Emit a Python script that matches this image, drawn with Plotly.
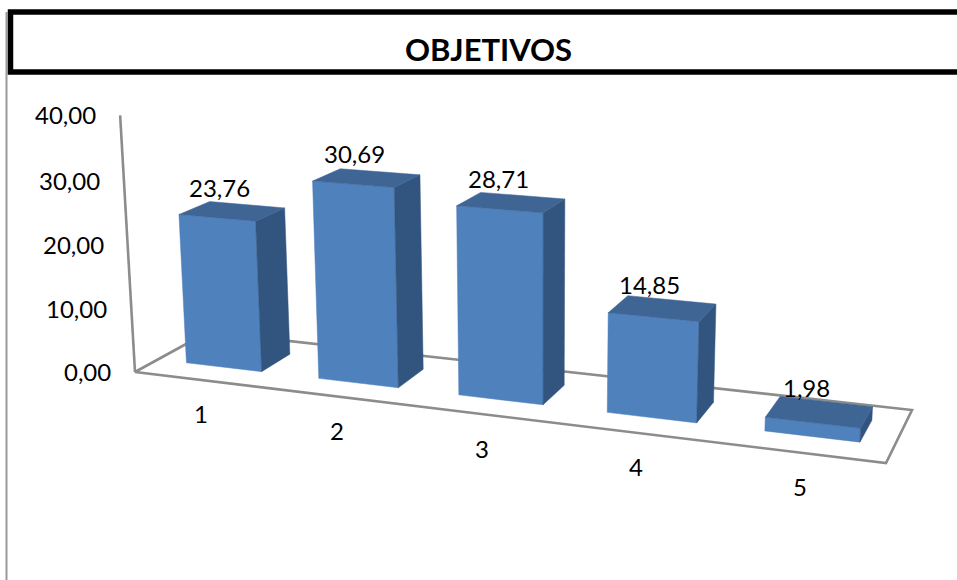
import numpy as np
import plotly.graph_objects as go

# Chart data
categories = ["1", "2", "3", "4", "5"]
values = [23.76, 30.69, 28.71, 14.85, 1.98]
tick_values = [0, 10, 20, 30, 40]
chart_title = "OBJETIVOS"

WIDTH, HEIGHT = 957, 580
FONT = "Lato, 'Open Sans', sans-serif"
FRONT, TOP, SIDE = "#4F81BD", "#3E6594", "#32557F"
WALL = "#8C8C8C"

# Floor plane: (s, t) in the unit square maps to the page through a homography.
FLOOR_CORNERS = {"p00": (135, 372), "p10": (886, 463), "p11": (912, 410), "p01": (208, 332)}


def _homography(c):
    p00, p10, p11, p01 = (np.array(c[k], float) for k in ("p00", "p10", "p11", "p01"))
    d1, d2, total = p10 - p11, p01 - p11, p00 - p10 + p11 - p01
    det = d1[0] * d2[1] - d1[1] * d2[0]
    g = (total[0] * d2[1] - total[1] * d2[0]) / det
    h = (d1[0] * total[1] - d1[1] * total[0]) / det
    return np.array(
        [
            [p10[0] - p00[0] + g * p10[0], p01[0] - p00[0] + h * p01[0], p00[0]],
            [p10[1] - p00[1] + g * p10[1], p01[1] - p00[1] + h * p01[1], p00[1]],
            [g, h, 1.0],
        ]
    )


H = _homography(FLOOR_CORNERS)


def project(s, t, z=0.0):
    """Page position of a point on category axis s, depth t, value z."""
    px, py, w = H @ np.array([s, t, 1.0])
    x, y = px / w, py / w
    # Verticals grow towards the viewer and converge on a point far below the plot.
    scale = 6.2 + 0.01 * (y - 363)
    rise = z * scale * (1 + 1.25e-5 * z * z)
    return x + rise * (x - 540) * 1.43e-4, y - rise


def polygon(points, color):
    xy = [project(*p) for p in points]
    xs, ys = zip(*(xy + xy[:1]))
    return go.Scatter(
        x=xs, y=ys, mode="lines", fill="toself", fillcolor=color,
        line=dict(color=color, width=0.5), hoverinfo="skip", showlegend=False,
    )


def wall_line(points):
    xy = [project(*p) for p in points]
    xs, ys = zip(*xy)
    return go.Scatter(
        x=xs, y=ys, mode="lines", line=dict(color=WALL, width=2.6),
        hoverinfo="skip", showlegend=False,
    )


fig = go.Figure()

# Floor outline and value axis
fig.add_trace(wall_line([(0, 1), (0, 0), (1, 0), (1, 1), (0, 1)]))
fig.add_trace(wall_line([(0, 0, 0), (0, 0, max(tick_values))]))

# Bars: each category takes a fifth of the floor
n = len(categories)
half, t0, t1 = 0.057, 0.30, 0.72
annotations = []
for i, (cat, v) in enumerate(zip(categories, values)):
    c = (i + 0.5) / n
    l, r = c - half + 0.0015, c + half + 0.0025
    fig.add_trace(polygon([(l, t0, 0), (r, t0, 0), (r, t0, v), (l, t0, v)], FRONT))
    fig.add_trace(polygon([(r, t0, 0), (r, t1, 0), (r, t1, v), (r, t0, v)], SIDE))
    fig.add_trace(polygon([(l, t0, v), (r, t0, v), (r, t1, v), (l, t1, v)], TOP))

    tx, ty = project(c, (t0 + t1) / 2, v)
    annotations.append(dict(
        x=tx, y=ty, xshift=-11, yshift=24, text=f"{v:.2f}".replace(".", ","),
        showarrow=False, font=dict(family=FONT, size=24, color="#000000"),
    ))
    cx, cy = project(c, 0)
    annotations.append(dict(
        x=cx, y=cy, yshift=-34, text=cat,
        showarrow=False, font=dict(family=FONT, size=24, color="#000000"),
    ))

# Value axis labels
for tv in tick_values:
    ax, ay = project(0, 0, tv)
    annotations.append(dict(
        x=ax, y=ay, xshift=-22, yshift=1, xanchor="right", text=f"{tv:.2f}".replace(".", ","),
        showarrow=False, font=dict(family=FONT, size=24, color="#000000"),
    ))

# Title
annotations.append(dict(
    x=488.5, y=49, text=f"<b>{chart_title}</b>", showarrow=False,
    font=dict(family=FONT, size=31, color="#000000"),
))

shapes = [
    dict(type="line", x0=6.5, x1=6.5, y0=12, y1=HEIGHT, line=dict(color="#9A9A9A", width=2)),
    dict(type="rect", x0=10.5, x1=WIDTH + 20, y0=12, y1=72, line=dict(color="#000000", width=5.5),
         fillcolor="#FFFFFF"),
]

fig.update_layout(
    width=WIDTH, height=HEIGHT, margin=dict(l=0, r=0, t=0, b=0),
    paper_bgcolor="#FFFFFF", plot_bgcolor="#FFFFFF", showlegend=False,
    xaxis=dict(range=[0, WIDTH], visible=False, fixedrange=True),
    yaxis=dict(range=[HEIGHT, 0], visible=False, fixedrange=True),
    annotations=annotations, shapes=shapes,
)

fig.write_html("out.html", config=dict(displayModeBar=False))
